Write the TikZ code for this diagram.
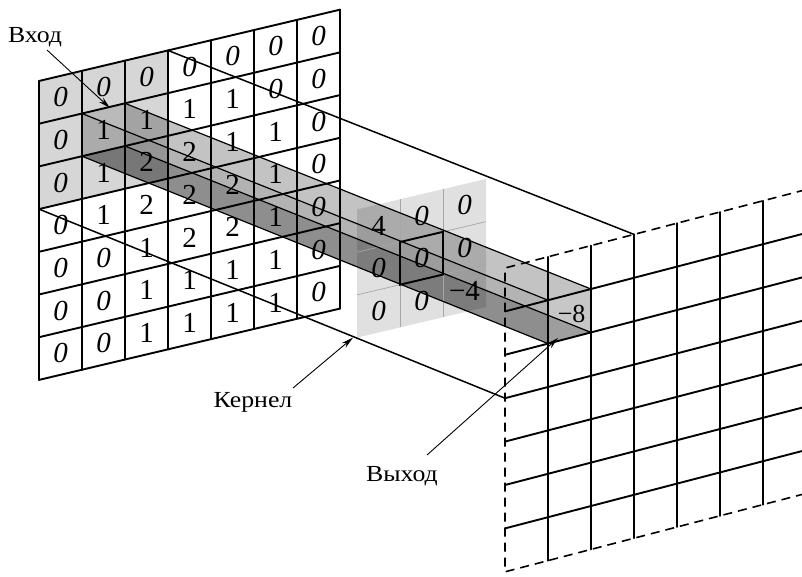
\documentclass[tikz,border=0pt]{standalone}
\usepackage{fontspec}
\setmainfont{Liberation Serif}
\newfontfamily\labfont[FakeStretch=1.12]{Liberation Serif}
\usetikzlibrary{arrows.meta}
\newcommand\mydig[1]{\ifnum#1=0 \textit{0}\else #1\fi}
\begin{document}
\begin{tikzpicture}[x=1pt,y=-1pt,
  gl/.style={line width=1.9pt, line cap=round},
  kgl/.style={line width=0.7pt, draw=gray!70},
  dig/.style={font=\fontsize{29}{31}\selectfont, inner sep=0pt},
  lab/.style={font=\labfont\fontsize{23}{26}\selectfont, inner sep=0pt},
  arr/.style={line width=0.9pt,-{Stealth[length=12pt,width=6pt]}},
  frameline/.style={line width=1.5pt},
  beamedge/.style={line width=1.2pt},
  dashedge/.style={line width=1.6pt, dash pattern=on 9pt off 6pt},
]
\useasboundingbox (0,0) rectangle (802,576);
\clip (0,0) rectangle (802,576);
\fill[white] (0,0) rectangle (802,576);

% ---------- input grid coordinates ----------
\begin{scope}[shift={(39pt,-81pt)}, x={(43pt,10.19pt)}, y={(0pt,-42.7pt)}]
  \fill[gray!32] (0,0) -- (3,0) -- (3,3) -- (0,3) -- cycle;
  \coordinate (iTL) at (1,1); \coordinate (iTR) at (2,1);
  \coordinate (iBL) at (1,2); \coordinate (iBR) at (2,2);
  \coordinate (iA) at (3,0);  \coordinate (iB) at (0,3);
\end{scope}

% ---------- kernel plane ----------
\begin{scope}[shift={(357pt,-209.5pt)}, x={(43pt,10.19pt)}, y={(0pt,-42.7pt)}]
  \fill[gray!24] (0,0) -- (3,0) -- (3,3) -- (0,3) -- cycle;
  \coordinate (kBL) at (0,3);
\end{scope}

% ---------- output coordinates ----------
\begin{scope}[shift={(505pt,-268pt)}, x={(43pt,11.2pt)}, y={(0pt,-43.4pt)}]
  \fill[gray!22] (1,1) -- (2,1) -- (2,2) -- (1,2) -- cycle;
  \coordinate (oTL) at (1,1); \coordinate (oTR) at (2,1);
  \coordinate (oBL) at (1,2); \coordinate (oBR) at (2,2);
  \coordinate (oA) at (3,0);  \coordinate (oB) at (0,3);
\end{scope}

% ---------- beam faces (transparent) ----------
\fill[black, fill opacity=0.13] (iTL) -- (iTR) -- (oTR) -- (oTL) -- cycle;
\fill[black, fill opacity=0.12] (iTR) -- (iBR) -- (oBR) -- (oTR) -- cycle;
\fill[black, fill opacity=0.20] (iTL) -- (iBL) -- (oBL) -- (oTL) -- cycle;
\fill[black, fill opacity=0.30] (iBL) -- (iBR) -- (oBR) -- (oBL) -- cycle;

% ---------- input grid lines and numbers ----------
\begin{scope}[shift={(39pt,-81pt)}, x={(43pt,10.19pt)}, y={(0pt,-42.7pt)}]
  \foreach \k in {0,...,7} {
    \draw[gl] (0,\k) -- (7,\k);
    \draw[gl] (\k,0) -- (\k,7);
  }
  \foreach \row [count=\i from 0] in {{0,0,0,0,0,0,0},{0,1,1,1,1,0,0},{0,1,2,2,1,1,0},{0,1,2,2,2,1,0},{0,0,1,2,2,1,0},{0,0,1,1,1,1,0},{0,0,1,1,1,1,0}} {
    \foreach \v [count=\j from 0] in \row {
      \node[dig] (in-\i-\j) at (\j+0.5,\i+0.5) {\mydig{\v}};
    }
  }
\end{scope}

% ---------- kernel grid lines and numbers ----------
\begin{scope}[shift={(357pt,-209.5pt)}, x={(43pt,10.19pt)}, y={(0pt,-42.7pt)}]
  \foreach \k in {1,2} {
    \draw[kgl] (0,\k) -- (3,\k);
    \draw[kgl] (\k,0) -- (\k,3);
  }
  \draw[gl] (1,1) -- (2,1) -- (2,2) -- (1,2) -- cycle;
  \node[dig] (k-0-0) at (0.5,0.5) {4};
  \node[dig] (k-0-1) at (1.5,0.5) {\textit{0}};
  \node[dig] (k-0-2) at (2.5,0.5) {\textit{0}};
  \node[dig] (k-1-0) at (0.5,1.5) {\textit{0}};
  \node[dig] (k-1-1) at (1.5,1.5) {\textit{0}};
  \node[dig] (k-1-2) at (2.5,1.5) {\textit{0}};
  \node[dig] (k-2-0) at (0.5,2.5) {\textit{0}};
  \node[dig] (k-2-1) at (1.5,2.5) {\textit{0}};
  \node[dig] (k-2-2) at (2.5,2.5) {\symbol{"2212}4};
\end{scope}

% ---------- output grid ----------
\begin{scope}[shift={(505pt,-268pt)}, x={(43pt,11.2pt)}, y={(0pt,-43.4pt)}]
  \foreach \k in {1,...,7} \draw[gl] (\k,0) -- (\k,7);
  \foreach \k in {1,...,6} \draw[gl] (0,\k) -- (8,\k);
  \draw[dashedge] (8,0) -- (0,0) -- (0,7) -- (8,7);
  \node[dig, font=\fontsize{26}{28}\selectfont] (out-1-1) at (1.55,1.45) {\symbol{"2212}8};
\end{scope}

% ---------- frame lines and beam edges ----------
\draw[frameline] (iA) -- (oA);
\draw[frameline] (iB) -- (oB);
\draw[beamedge] (iTL) -- (oTL);
\draw[beamedge] (iTR) -- (oTR);
\draw[beamedge] (iBL) -- (oBL);
\draw[beamedge] (iBR) -- (oBR);

% ---------- labels and arrows ----------
\node[lab] (vhod) at (35,37) {Вход};
\node[lab] (kern) at (253,402) {Кернел};
\node[lab] (vyhod) at (402,476) {Выход};
\coordinate (vhodT) at (47,50);
\coordinate (vhodH) at (110,108);
\coordinate (kernT) at (293,388);
\coordinate (vyhodT) at (427,455);
\coordinate (vyhodH) at (558,338);
\draw[arr] (vhodT) -- (vhodH);
\draw[arr] (kernT) -- ([xshift=-4pt]kBL);
\draw[arr] (vyhodT) -- (vyhodH);
\end{tikzpicture}
\end{document}
